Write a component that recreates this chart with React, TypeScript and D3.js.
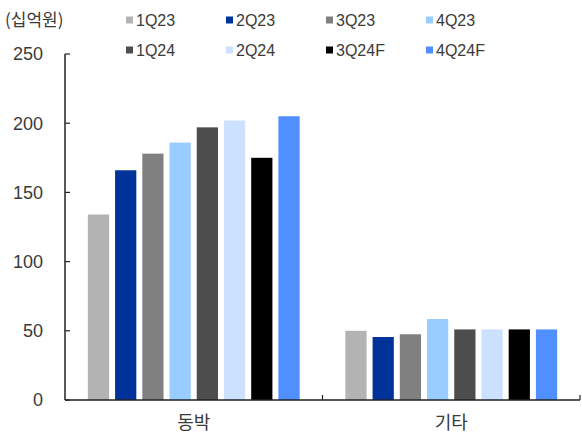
import React from "react";
import * as d3 from "d3";

const categories = ["동박", "기타"];
const seriesNames = ["1Q23", "2Q23", "3Q23", "4Q23", "1Q24", "2Q24", "3Q24F", "4Q24F"];
const seriesColors = ["#b3b3b3", "#003399", "#808080", "#99ccff", "#4d4d4d", "#cce0ff", "#000000", "#4f8fff"];
const copperFoil = [134, 166, 178, 186, 197, 202, 175, 205];
const others = [50, 45.5, 47.5, 58.5, 51, 51, 51, 51];
const yTicks = [0, 50, 100, 150, 200, 250];
const unitLabel = "(십억원)";

const W = 582;
const H = 437;
const left = 65;
const right = 580;
const top = 54;
const bottom = 400;
const textColor = "#3a3a3a";
const latin = "'Liberation Sans', Arial, sans-serif";
const korean = "'Noto Sans CJK KR', 'Noto Sans', sans-serif";

export default function App() {
  const data = [copperFoil, others];
  const x0 = d3.scaleBand<string>().domain(categories).range([left, right]).padding(0);
  const x1 = d3
    .scaleBand<string>()
    .domain(seriesNames)
    .range([0, x0.bandwidth()])
    .paddingInner(0.22)
    .paddingOuter(0.84);
  const y = d3.scaleLinear().domain([0, 250]).range([bottom, top]);

  return (
    <svg
      width={W}
      height={H}
      style={{ position: "absolute", left: 0, top: 0, background: "#fff" }}
    >
      {/* unit label */}
      <text x={5} y={20} dy="0.36em" fontFamily={korean} fontSize={17} fill={textColor}>
        {unitLabel}
      </text>

      {/* legend */}
      {seriesNames.map((s, i) => {
        const col = i % 4;
        const row = Math.floor(i / 4);
        const lx = 126 + col * 100;
        const ly = 20 + row * 30;
        return (
          <g key={s}>
            <rect x={lx} y={ly - 3.5} width={7} height={7} fill={seriesColors[i]} />
            <text
              x={lx + 10}
              y={ly}
              dy="0.36em"
              fontFamily={latin}
              fontSize={16}
              fill={textColor}
            >
              {s}
            </text>
          </g>
        );
      })}

      {/* bars */}
      {categories.map((c, ci) => (
        <g key={c} transform={`translate(${x0(c)},0)`}>
          {seriesNames.map((s, si) => (
            <rect
              key={s}
              x={x1(s)}
              y={y(data[ci][si])}
              width={x1.bandwidth()}
              height={y(0) - y(data[ci][si])}
              fill={seriesColors[si]}
            />
          ))}
        </g>
      ))}

      {/* y axis */}
      <line x1={left} x2={left} y1={top} y2={bottom} stroke="#222" strokeWidth={1.5} />
      {yTicks.map((t) => (
        <g key={t}>
          <line x1={left} x2={left + 5} y1={y(t)} y2={y(t)} stroke="#222" strokeWidth={1.2} />
          <text
            x={43}
            y={y(t)}
            dy="0.36em"
            textAnchor="end"
            fontFamily={latin}
            fontSize={18}
            fill={textColor}
          >
            {t}
          </text>
        </g>
      ))}

      {/* x axis */}
      <line x1={left} x2={right} y1={bottom} y2={bottom} stroke="#222" strokeWidth={1.5} />
      {categories.map((c) => (
        <g key={c}>
          <line
            x1={(x0(c) as number) + x0.bandwidth()}
            x2={(x0(c) as number) + x0.bandwidth()}
            y1={bottom}
            y2={bottom - 5}
            stroke="#222"
            strokeWidth={1.2}
          />
          <text
            x={(x0(c) as number) + x0.bandwidth() / 2}
            y={423}
            dy="0.36em"
            textAnchor="middle"
            fontFamily={korean}
            fontSize={18}
            fill={textColor}
          >
            {c}
          </text>
        </g>
      ))}
    </svg>
  );
}
